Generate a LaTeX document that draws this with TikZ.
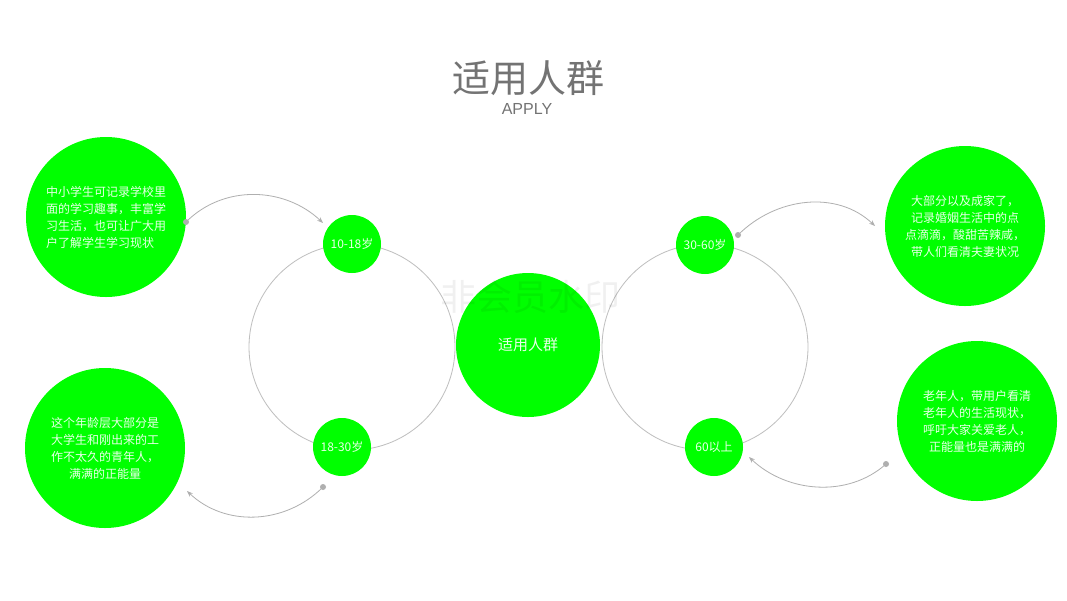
\documentclass[tikz,border=0pt]{standalone}
\usepackage{fontspec}
\setmainfont{Noto Sans CJK SC}
\newfontfamily\latinsans{Liberation Sans}
\usetikzlibrary{arrows.meta}
\definecolor{brightgreen}{RGB}{0,255,0}
\definecolor{titlegray}{RGB}{115,115,115}
\definecolor{linegray}{RGB}{175,175,175}
\definecolor{ringgray}{RGB}{190,190,190}
\definecolor{paletext}{RGB}{232,255,232}
\tikzset{
  bigcirc/.style={circle, fill=brightgreen, draw=none, inner sep=0pt, minimum size=160pt,
    text=paletext, font=\fontsize{12}{17}\selectfont},
  agecirc/.style={circle, fill=brightgreen, draw=none, inner sep=0pt, minimum size=58pt,
    text=paletext, font=\fontsize{12}{14}\selectfont},
  centercirc/.style={circle, fill=brightgreen, draw=none, inner sep=0pt, minimum size=144pt,
    text=paletext, font=\fontsize{15}{18}\selectfont},
  ring/.style={draw=ringgray, line width=0.8pt},
  conn/.style={draw=linegray, line width=0.8pt, -{Stealth[length=6pt,width=4.5pt]}},
  dotmark/.style={circle, fill=linegray, inner sep=0pt, minimum size=6pt}
}
\begin{document}
\begin{tikzpicture}[x=1pt,y=-1pt]
\useasboundingbox (0,0) rectangle (1067,600);
\fill[white] (0,0) rectangle (1067,600);

% title
\node[text=titlegray, font=\fontsize{38}{40}\selectfont] (title) at (528,78) {适用人群};
\node[text=titlegray, font=\latinsans\fontsize{16}{17}\selectfont] (apply) at (527,109) {APPLY};

% rings
\node[circle, ring, inner sep=0pt, minimum size=206pt] (ringL) at (352,347) {};
\node[circle, ring, inner sep=0pt, minimum size=206pt] (ringR) at (705,347) {};

% center
\node[centercirc] (center) at (528,345) {适用人群};

% age circles
\node[agecirc] (a1) at (352,244) {10-18岁};
\node[agecirc] (a2) at (342,447) {18-30岁};
\node[agecirc] (a3) at (705,245) {30-60岁};
\node[agecirc] (a4) at (714,447) {60以上};

% big circles
\node[bigcirc, align=left] (b1) at (106,217) {中小学生可记录学校里\\面的学习趣事，丰富学\\习生活，也可让广大用\\户了解学生学习现状};
\node[bigcirc, align=center] (b2) at (105,448) {这个年龄层大部分是\\大学生和刚出来的工\\作不太久的青年人，\\满满的正能量};
\node[bigcirc, align=center] (b3) at (965,226) {大部分以及成家了，\\记录婚姻生活中的点\\点滴滴，酸甜苦辣咸，\\带人们看清夫妻状况};
\node[bigcirc, align=center] (b4) at (977,421) {老年人，带用户看清\\老年人的生活现状，\\呼吁大家关爱老人，\\正能量也是满满的};

% connector end points
\coordinate (s1) at (186,222);
\coordinate (t1) at (323,223);
\coordinate (s2) at (323,487);
\coordinate (t2) at (187,491);
\coordinate (s3) at (738,235);
\coordinate (t3) at (875,226);
\coordinate (s4) at (886,464);
\coordinate (t4) at (749,457);

\draw[conn] (s1) .. controls +(38,-38) and +(-38,-36) .. (t1);
\draw[conn] (s2) .. controls +(-38,38) and +(38,36) .. (t2);
\draw[conn] (s3) .. controls +(38,-38) and +(-38,-36) .. (t3);
\draw[conn] (s4) .. controls +(-38,34) and +(38,36) .. (t4);

\node[dotmark] (d1) at (s1) {};
\node[dotmark] (d2) at (s2) {};
\node[dotmark] (d3) at (s3) {};
\node[dotmark] (d4) at (s4) {};

% watermark
\node[text=black, opacity=0.06, font=\fontsize{36}{38}\selectfont] (wm) at (530,297) {非会员水印};
\end{tikzpicture}
\end{document}
